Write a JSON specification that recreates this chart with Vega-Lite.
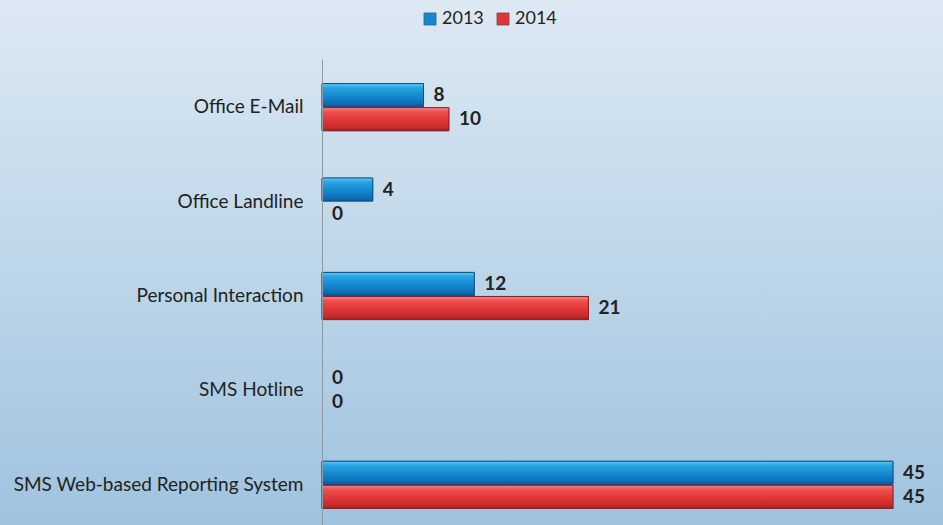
{
  "$schema": "https://vega.github.io/schema/vega-lite/v6.json",
  "width": 943,
  "height": 525,
  "autosize": {"type": "none"},
  "padding": 0,
  "background": "#c0d8eb",
  "config": {"view": {"stroke": null}, "font": "Lato"},
  "datasets": {
    "bars": [
      {"category": "Office E-Mail", "year": "2013", "value": 8},
      {"category": "Office E-Mail", "year": "2014", "value": 10},
      {"category": "Office Landline", "year": "2013", "value": 4},
      {"category": "Office Landline", "year": "2014", "value": 0},
      {"category": "Personal Interaction", "year": "2013", "value": 12},
      {"category": "Personal Interaction", "year": "2014", "value": 21},
      {"category": "SMS Hotline", "year": "2013", "value": 0},
      {"category": "SMS Hotline", "year": "2014", "value": 0},
      {"category": "SMS Web-based Reporting System", "year": "2013", "value": 45},
      {"category": "SMS Web-based Reporting System", "year": "2014", "value": 45}
    ]
  },
  "layer": [
    {
      "data": {"values": [{}]},
      "mark": {
        "type": "rect",
        "fill": {
          "gradient": "linear", "x1": 0, "y1": 0, "x2": 0, "y2": 1,
          "stops": [
            {"offset": 0, "color": "#dde9f3"},
            {"offset": 1, "color": "#9fc3df"}
          ]
        }
      },
      "encoding": {}
    },
    {
      "data": {"name": "bars"},
      "transform": [{"filter": "datum.value > 0"}],
      "mark": {"type": "bar", "stroke": "#3a4a5a", "strokeOpacity": 0.5, "strokeWidth": 1},
      "encoding": {
        "y": {
          "field": "category", "type": "nominal",
          "sort": ["Office E-Mail", "Office Landline", "Personal Interaction", "SMS Hotline", "SMS Web-based Reporting System"],
          "scale": {"range": [59, 533], "paddingInner": 0.5, "paddingOuter": 0.26},
          "axis": {
            "title": null, "orient": "left", "offset": -322, "ticks": false, "zindex": 1,
            "labelPadding": 19, "labelFontSize": 19, "labelColor": "#222222", "labelLimit": 400,
            "labelFont": "Lato", "domainColor": "#8c9aa8", "domainWidth": 1, "grid": false
          }
        },
        "yOffset": {"field": "year", "type": "nominal", "scale": {"paddingInner": 0.04}},
        "x": {
          "field": "value", "type": "quantitative",
          "scale": {"domain": [-25.377, 48.94], "nice": false, "zero": false},
          "axis": null
        },
        "color": {
          "field": "year", "type": "nominal",
          "scale": {"domain": ["2013", "2014"], "range": ["#1788cf", "#e03535"]},
          "legend": {
            "title": null, "orient": "none", "direction": "horizontal",
            "legendX": 421, "legendY": 10, "symbolType": "square", "symbolSize": 150,
            "labelFontSize": 18, "labelColor": "#222222", "labelFont": "Lato",
            "symbolStrokeColor": "#3a4a5a", "symbolStrokeWidth": 0.5, "columnPadding": 10, "labelOffset": 3
          }
        }
      }
    },
    {
      "data": {"name": "bars"},
      "transform": [{"filter": "datum.year === '2013' && datum.value > 0"}],
      "mark": {
        "type": "bar", "stroke": "#0d4f85", "strokeWidth": 1,
        "fill": {
          "gradient": "linear", "x1": 0, "y1": 0, "x2": 0, "y2": 1,
          "stops": [
            {"offset": 0, "color": "#5ccaf5"},
            {"offset": 0.18, "color": "#28a3e2"},
            {"offset": 0.55, "color": "#1588d0"},
            {"offset": 0.85, "color": "#0f6eb6"},
            {"offset": 1, "color": "#0b5a99"}
          ]
        }
      },
      "encoding": {
        "y": {"field": "category", "type": "nominal", "sort": ["Office E-Mail", "Office Landline", "Personal Interaction", "SMS Hotline", "SMS Web-based Reporting System"]},
        "yOffset": {"field": "year", "type": "nominal"},
        "x": {"field": "value", "type": "quantitative"}
      }
    },
    {
      "data": {"name": "bars"},
      "transform": [{"filter": "datum.year === '2014' && datum.value > 0"}],
      "mark": {
        "type": "bar", "stroke": "#8c1f1f", "strokeWidth": 1,
        "fill": {
          "gradient": "linear", "x1": 0, "y1": 0, "x2": 0, "y2": 1,
          "stops": [
            {"offset": 0, "color": "#f78585"},
            {"offset": 0.18, "color": "#ee5050"},
            {"offset": 0.55, "color": "#e03636"},
            {"offset": 0.85, "color": "#c62b2b"},
            {"offset": 1, "color": "#a32121"}
          ]
        }
      },
      "encoding": {
        "y": {"field": "category", "type": "nominal", "sort": ["Office E-Mail", "Office Landline", "Personal Interaction", "SMS Hotline", "SMS Web-based Reporting System"]},
        "yOffset": {"field": "year", "type": "nominal"},
        "x": {"field": "value", "type": "quantitative"}
      }
    },
    {
      "data": {"name": "bars"},
      "mark": {"type": "text", "align": "left", "baseline": "middle", "dx": 10, "fontSize": 19, "fontWeight": "bold", "color": "#222222", "font": "Lato"},
      "encoding": {
        "y": {"field": "category", "type": "nominal", "sort": ["Office E-Mail", "Office Landline", "Personal Interaction", "SMS Hotline", "SMS Web-based Reporting System"]},
        "yOffset": {"field": "year", "type": "nominal"},
        "x": {"field": "value", "type": "quantitative"},
        "text": {"field": "value", "type": "quantitative"}
      }
    }
  ]
}
